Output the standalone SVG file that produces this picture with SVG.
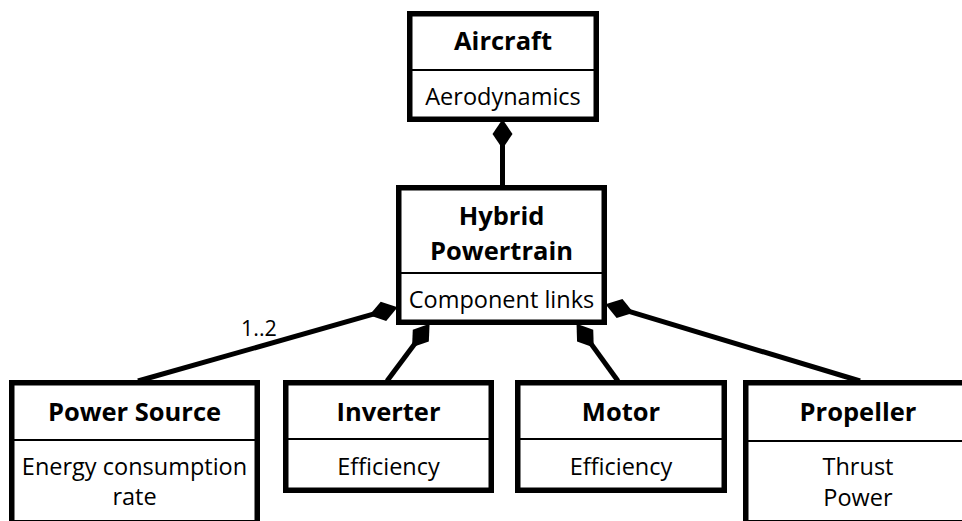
<svg xmlns="http://www.w3.org/2000/svg" width="962" height="521" viewBox="0 0 962 521">
  <style>
    .box { fill: #ffffff; stroke: #000000; stroke-width: 5.5; }
    .div { stroke: #000000; stroke-width: 2; }
    .title { font-family: "Open Sans", "Liberation Sans", sans-serif; font-weight: bold; font-size: 25.5px; fill: #000000; text-anchor: middle; }
    .attr { font-family: "Open Sans", "Liberation Sans", sans-serif; font-size: 23.5px; fill: #000000; text-anchor: middle; }
    .mult { font-family: "Open Sans", "Liberation Sans", sans-serif; font-size: 21.5px; fill: #000000; }
    .link { fill: none; stroke: #000000; stroke-width: 5; marker-start: url(#composition); }
  </style>
  <defs>
    <!-- filled diamond for composition, tip sits 8 units behind the line start -->
    <marker id="composition" markerUnits="userSpaceOnUse" orient="auto" refX="0" refY="0"
            markerWidth="40" markerHeight="40" viewBox="-10 -10 30 20" overflow="visible">
      <path d="M-8,0 L3,-7.5 L14,0 L3,7.5 Z" fill="#000000"/>
    </marker>
  </defs>

  <!-- composition links -->
  <g id="connectors">
    <path class="link" d="M502.5,130 L502.5,187"/>
    <path class="link" d="M387.3,310.2 L138,381"/>
    <path class="link" d="M423.2,332.4 L387,381"/>
    <path class="link" d="M582.8,332.4 L618,381"/>
    <path class="link" d="M615.7,307.3 L860,381"/>
    <text class="mult" x="241" y="336">1..2</text>
  </g>

  <g id="aircraft">
    <rect class="box" x="409.75" y="13.75" width="186.5" height="105.5"/>
    <line class="div" x1="409.75" y1="70" x2="596.25" y2="70"/>
    <text class="title" x="503" y="50">Aircraft</text>
    <text class="attr" x="503" y="105">Aerodynamics</text>
  </g>

  <g id="hybrid-powertrain">
    <rect class="box" x="398.75" y="187.75" width="205.5" height="134.5"/>
    <line class="div" x1="398.75" y1="273" x2="604.25" y2="273"/>
    <text class="title" x="501.5" y="225">Hybrid</text>
    <text class="title" x="501.5" y="260">Powertrain</text>
    <text class="attr" x="501.5" y="308">Component links</text>
  </g>

  <g id="power-source">
    <rect class="box" x="11.75" y="382.75" width="245.5" height="140"/>
    <line class="div" x1="11.75" y1="440" x2="257.25" y2="440"/>
    <text class="title" x="134.5" y="421">Power Source</text>
    <text class="attr" x="134.5" y="475">Energy consumption</text>
    <text class="attr" x="134.5" y="505">rate</text>
  </g>

  <g id="inverter">
    <rect class="box" x="285.75" y="382.75" width="205.5" height="107.5"/>
    <line class="div" x1="285.75" y1="439" x2="491.25" y2="439"/>
    <text class="title" x="388.5" y="421">Inverter</text>
    <text class="attr" x="388.5" y="475">Efficiency</text>
  </g>

  <g id="motor">
    <rect class="box" x="517.75" y="382.75" width="206.5" height="107.5"/>
    <line class="div" x1="517.75" y1="439" x2="724.25" y2="439"/>
    <text class="title" x="621" y="421">Motor</text>
    <text class="attr" x="621" y="475">Efficiency</text>
  </g>

  <g id="propeller">
    <rect class="box" x="745.75" y="382.75" width="224" height="140"/>
    <line class="div" x1="745.75" y1="441" x2="969.75" y2="441"/>
    <text class="title" x="858" y="421">Propeller</text>
    <text class="attr" x="858" y="475">Thrust</text>
    <text class="attr" x="858" y="506">Power</text>
  </g>
</svg>
